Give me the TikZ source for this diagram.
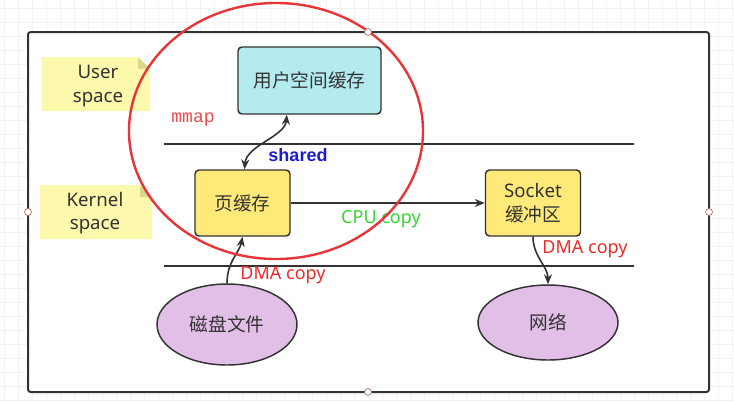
\documentclass[tikz,border=0pt]{standalone}
\usepackage{fontspec}
\setmainfont{Noto Sans}
\newfontfamily\cjk{Noto Sans CJK SC}
\newfontfamily\mono{Liberation Mono}
\newfontfamily\heavy{Liberation Sans}
\usetikzlibrary{arrows.meta}
\usetikzlibrary{shapes.geometric}
\definecolor{textgray}{HTML}{333333}
\definecolor{linegray}{HTML}{333333}
\definecolor{notefill}{HTML}{FCF8AC}
\definecolor{foldfill}{HTML}{D8D78C}
\definecolor{userfill}{HTML}{B3EBEF}
\definecolor{pagefill}{HTML}{FFE978}
\definecolor{diskfill}{HTML}{E1BFE6}
\definecolor{ringred}{HTML}{E8353A}
\definecolor{labelred}{HTML}{EE2A2A}
\definecolor{labelgreen}{HTML}{33D633}
\definecolor{labelblue}{HTML}{1C1CCC}
\tikzset{buffer/.style={draw=linegray, line width=1.1pt, rounded corners=3pt,
                        text=textgray, align=center, inner sep=0pt,
                        font=\fontsize{14}{18}\selectfont}}
\tikzset{device/.style={ellipse, draw=linegray, line width=1.1pt, fill=diskfill,
                        text=textgray, inner sep=0pt,
                        font=\fontsize{14}{18}\selectfont\cjk}}
\tikzset{link/.style={draw=linegray, line width=1.2pt}}

\begin{document}
\begin{tikzpicture}
    [
      x=0.75pt, y=-0.75pt,
      tag/.style = {font=\fontsize{13.5}{16}\selectfont, inner sep=0pt},
      notetext/.style = {text=textgray, align=center, font=\fontsize{14}{17.5}\selectfont},
      handle/.style = {draw=ringred!60!black!70, fill=white, line width=0.5pt},
      tip/.style = {-{Stealth[length=7.5pt,width=6pt]}},
    ]
    \useasboundingbox (0,0) rectangle (734,401);

    % background grid
    \foreach \x in {4,18,...,734}
      \draw[black!5, line width=0.4pt] (\x,0) -- (\x,401);
    \foreach \y in {8,22,...,401}
      \draw[black!5, line width=0.4pt] (0,\y) -- (734,\y);

    % frame
    \draw[fill=white, draw=linegray, line width=1.5pt, rounded corners=2pt] (28,32) rectangle (709,392);

    % separators
    \draw[linegray, line width=1.1pt] (164,144) -- (634,144);
    \draw[linegray, line width=1.1pt] (164,266) -- (634,266);

    % notes
    \fill[notefill] (42,57) -- (138,57) -- (150,69) -- (150,111) -- (42,111) -- cycle;
    \fill[foldfill] (138,57) -- (150,69) -- (138,69) -- cycle;
    \node[notetext] (usernote) at (98,86) {User\\space};

    \fill[notefill] (40,185) -- (140,185) -- (152,197) -- (152,239) -- (40,239) -- cycle;
    \fill[foldfill] (140,185) -- (152,197) -- (140,197) -- cycle;
    \node[notetext] (kernelnote) at (95,213) {Kernel\\space};

    % buffers
    \node[buffer, fill=userfill, minimum width=107.25pt, minimum height=50.25pt] (userbuf) at (309.5,80.5) {\cjk 用户空间缓存};
    \node[buffer, fill=pagefill, minimum width=71.25pt, minimum height=49.5pt] (pagecache) at (242.5,203) {\cjk 页缓存};
    \node[buffer, fill=pagefill, minimum width=71.25pt, minimum height=49.5pt] (sockbuf) at (533,203) {Socket\\{\cjk 缓冲区}};

    % devices
    \node[device, minimum width=105pt, minimum height=60.75pt] (disk) at (227,324.5) {磁盘文件};
    \node[device, minimum width=105pt, minimum height=56.25pt] (net) at (548,322.5) {网络};

    % copies
    \draw[link, {Stealth[length=7.5pt,width=6pt]}-{Stealth[length=7.5pt,width=6pt]}]
      ([xshift=1.5pt]pagecache.north) .. controls +(2,-24) and +(-2,22) .. ([xshift=-17pt]userbuf.south);
    \draw[link, tip] (pagecache.east) -- (sockbuf.west);
    \draw[link, tip] (disk.north) .. controls +(0,-22) and +(-3,16) .. (pagecache.south);
    \draw[link, tip] (sockbuf.south) .. controls +(0,20) and +(0,-18) .. (net.north);

    % labels
    \node[tag, text=labelred!85!white, font=\fontsize{13.5}{16}\selectfont\mono] (mmaplbl) at (193,120) {mmap};
    \node[tag, text=labelblue, font=\fontsize{13.5}{16}\selectfont\heavy\bfseries] (sharedlbl) at (298,155) {shared};
    \node[tag, text=labelgreen] (cpulbl) at (381,219) {CPU copy};
    \node[tag, text=labelred] (dmadisk) at (283,275) {DMA copy};
    \node[tag, text=labelred] (dmanet) at (585,249) {DMA copy};

    % mmap ring
    \draw[ringred, line width=1.8pt] (276,131) ellipse [x radius=147, y radius=128];

    % handles
    \foreach \p in {(368,32),(28,212),(709,212),(368,392)}
      \draw[handle] \p circle [radius=2.6pt];

  \end{tikzpicture}
\end{document}
